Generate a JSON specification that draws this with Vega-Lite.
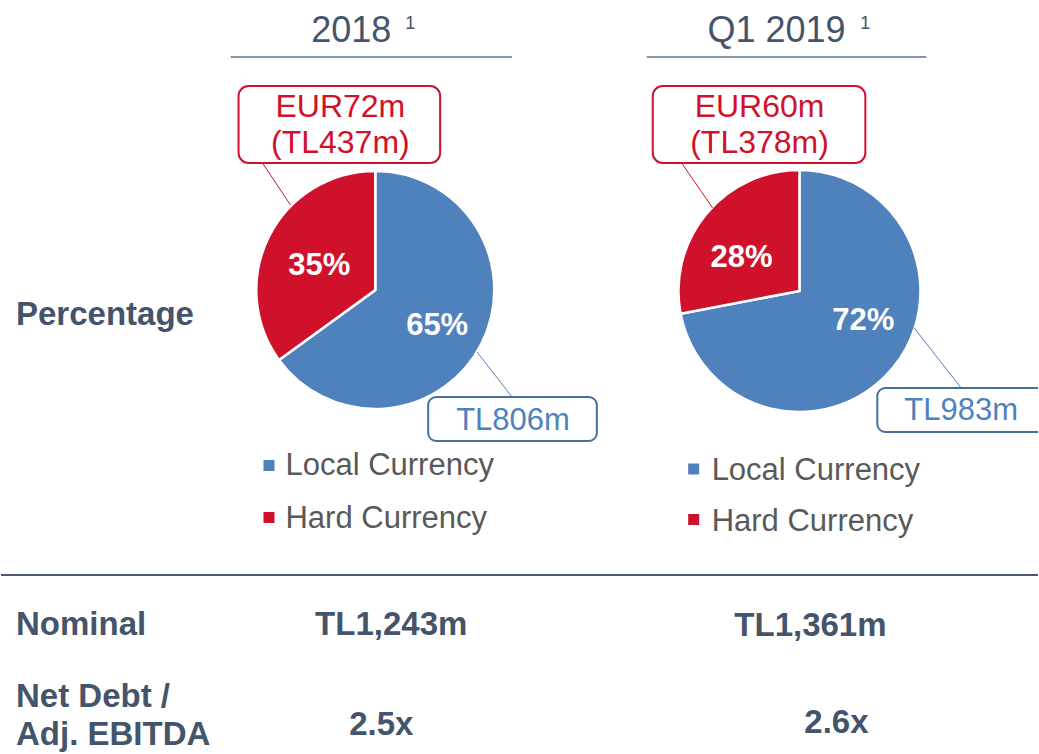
{
  "$schema": "https://vega.github.io/schema/vega-lite/v6.json",
  "width": 1039,
  "height": 754,
  "autosize": {"type": "fit", "contains": "padding"},
  "padding": 0,
  "background": "white",
  "config": {"view": {"stroke": null}, "font": "Liberation Sans"},
  "datasets": {
    "pies": [
      {"period": "2018", "currency": "Local Currency", "share": 65, "x": 375, "y": 290},
      {"period": "2018", "currency": "Hard Currency", "share": 35, "x": 375, "y": 290},
      {"period": "Q1 2019", "currency": "Local Currency", "share": 72, "x": 800, "y": 291},
      {"period": "Q1 2019", "currency": "Hard Currency", "share": 28, "x": 800, "y": 291}
    ],
    "headerRules": [
      {"x": 230, "x2": 512, "y": 57},
      {"x": 647, "x2": 927, "y": 57}
    ],
    "bottomRule": [{"x": 0, "x2": 1039, "y": 575}],
    "redLeaders": [
      {"x": 262, "y": 163, "x2": 290, "y2": 205},
      {"x": 682, "y": 163, "x2": 713, "y2": 208}
    ],
    "blueLeaders": [
      {"x": 477, "y": 352, "x2": 512, "y2": 397},
      {"x": 915, "y": 328, "x2": 962, "y2": 388}
    ],
    "redBoxes": [
      {"x": 238, "x2": 440, "y": 86, "y2": 163},
      {"x": 653, "x2": 866, "y": 86, "y2": 163}
    ],
    "blueBoxes": [
      {"x": 428, "x2": 597, "y": 397, "y2": 441},
      {"x": 878, "x2": 1060, "y": 388, "y2": 432}
    ],
    "headers": [
      {"text": "2018", "x": 351, "y": 42},
      {"text": "Q1 2019", "x": 777, "y": 42}
    ],
    "sups": [
      {"text": "1", "x": 410, "y": 29},
      {"text": "1", "x": 866, "y": 29}
    ],
    "redText": [
      {"text": "EUR72m", "x": 340, "y": 117},
      {"text": "(TL437m)", "x": 340, "y": 153},
      {"text": "EUR60m", "x": 760, "y": 117},
      {"text": "(TL378m)", "x": 760, "y": 153}
    ],
    "pct": [
      {"text": "35%", "x": 319, "y": 275},
      {"text": "65%", "x": 437, "y": 335},
      {"text": "28%", "x": 742, "y": 267},
      {"text": "72%", "x": 864, "y": 330}
    ],
    "blueText": [
      {"text": "TL806m", "x": 513, "y": 430},
      {"text": "TL983m", "x": 962, "y": 420}
    ],
    "legendText": [
      {"text": "Local Currency", "x": 285, "y": 475},
      {"text": "Hard Currency", "x": 285, "y": 528},
      {"text": "Local Currency", "x": 712, "y": 480},
      {"text": "Hard Currency", "x": 712, "y": 531}
    ],
    "legendSquares": [
      {"currency": "Local Currency", "x": 268.5, "y": 465.5},
      {"currency": "Hard Currency", "x": 268.5, "y": 517.5},
      {"currency": "Local Currency", "x": 694, "y": 469},
      {"currency": "Hard Currency", "x": 694, "y": 519.5}
    ],
    "rowLabels": [
      {"text": "Percentage", "x": 15, "y": 325},
      {"text": "Nominal", "x": 15, "y": 635},
      {"text": "Net Debt /", "x": 15, "y": 707},
      {"text": "Adj. EBITDA", "x": 15, "y": 745}
    ],
    "values": [
      {"text": "TL1,243m", "x": 391, "y": 635},
      {"text": "TL1,361m", "x": 811, "y": 636},
      {"text": "2.5x", "x": 381, "y": 735},
      {"text": "2.6x", "x": 837, "y": 733}
    ]
  },
  "encoding": {
    "x": {"field": "x", "type": "quantitative", "scale": {"domain": [0, 1039], "nice": false, "zero": false}, "axis": null},
    "y": {"field": "y", "type": "quantitative", "scale": {"domain": [0, 754], "nice": false, "zero": false, "reverse": true}, "axis": null}
  },
  "layer": [
    {
      "data": {"name": "headerRules"},
      "mark": {"type": "rule", "color": "#8497a8", "strokeWidth": 2},
      "encoding": {"x2": {"field": "x2"}}
    },
    {
      "data": {"name": "bottomRule"},
      "mark": {"type": "rule", "color": "#4a5a6e", "strokeWidth": 2},
      "encoding": {"x2": {"field": "x2"}}
    },
    {
      "data": {"name": "pies"},
      "transform": [{"filter": "datum.period === '2018'"}],
      "mark": {"type": "arc", "outerRadius": 119, "stroke": "white", "strokeWidth": 2.5},
      "encoding": {
        "theta": {"field": "share", "type": "quantitative", "stack": true, "scale": {"domain": [0, 100]}},
        "order": {"field": "share", "sort": "descending"},
        "color": {"field": "currency", "type": "nominal", "scale": {"domain": ["Local Currency", "Hard Currency"], "range": ["#4f81bd", "#d0112b"]}, "legend": null}
      }
    },
    {
      "data": {"name": "pies"},
      "transform": [{"filter": "datum.period === 'Q1 2019'"}],
      "mark": {"type": "arc", "outerRadius": 121, "stroke": "white", "strokeWidth": 2.5},
      "encoding": {
        "theta": {"field": "share", "type": "quantitative", "stack": true, "scale": {"domain": [0, 100]}},
        "order": {"field": "share", "sort": "descending"},
        "color": {"field": "currency", "type": "nominal", "legend": null}
      }
    },
    {
      "data": {"name": "redLeaders"},
      "mark": {"type": "rule", "color": "#d0112b", "strokeWidth": 1},
      "encoding": {"x2": {"field": "x2"}, "y2": {"field": "y2"}}
    },
    {
      "data": {"name": "blueLeaders"},
      "mark": {"type": "rule", "color": "#4f81bd", "strokeWidth": 1},
      "encoding": {"x2": {"field": "x2"}, "y2": {"field": "y2"}}
    },
    {
      "data": {"name": "redBoxes"},
      "mark": {"type": "rect", "fill": "white", "stroke": "#d0112b", "strokeWidth": 2, "cornerRadius": 10},
      "encoding": {"x2": {"field": "x2"}, "y2": {"field": "y2"}}
    },
    {
      "data": {"name": "blueBoxes"},
      "mark": {"type": "rect", "fill": "white", "stroke": "#41719c", "strokeWidth": 2, "cornerRadius": 8, "clip": true},
      "encoding": {"x2": {"field": "x2"}, "y2": {"field": "y2"}}
    },
    {
      "data": {"name": "headers"},
      "mark": {"type": "text", "fontSize": 36, "color": "#44546a", "align": "center", "baseline": "alphabetic"},
      "encoding": {"text": {"field": "text"}}
    },
    {
      "data": {"name": "sups"},
      "mark": {"type": "text", "fontSize": 18, "color": "#44546a", "align": "center", "baseline": "alphabetic"},
      "encoding": {"text": {"field": "text"}}
    },
    {
      "data": {"name": "redText"},
      "mark": {"type": "text", "fontSize": 32, "color": "#d0112b", "align": "center", "baseline": "alphabetic"},
      "encoding": {"text": {"field": "text"}}
    },
    {
      "data": {"name": "pct"},
      "mark": {"type": "text", "fontSize": 31, "fontWeight": "bold", "color": "white", "align": "center", "baseline": "alphabetic"},
      "encoding": {"text": {"field": "text"}}
    },
    {
      "data": {"name": "blueText"},
      "mark": {"type": "text", "fontSize": 31, "color": "#4f81bd", "align": "center", "baseline": "alphabetic"},
      "encoding": {"text": {"field": "text"}}
    },
    {
      "data": {"name": "legendSquares"},
      "mark": {"type": "point", "shape": "square", "filled": true, "size": 121, "opacity": 1},
      "encoding": {"color": {"field": "currency", "type": "nominal", "legend": null}}
    },
    {
      "data": {"name": "legendText"},
      "mark": {"type": "text", "fontSize": 31, "color": "#595959", "align": "left", "baseline": "alphabetic"},
      "encoding": {"text": {"field": "text"}}
    },
    {
      "data": {"name": "rowLabels"},
      "mark": {"type": "text", "fontSize": 33, "fontWeight": "bold", "color": "#44546a", "align": "left", "baseline": "alphabetic"},
      "encoding": {"text": {"field": "text"}}
    },
    {
      "data": {"name": "values"},
      "mark": {"type": "text", "fontSize": 33, "fontWeight": "bold", "color": "#44546a", "align": "center", "baseline": "alphabetic"},
      "encoding": {"text": {"field": "text"}}
    }
  ]
}
